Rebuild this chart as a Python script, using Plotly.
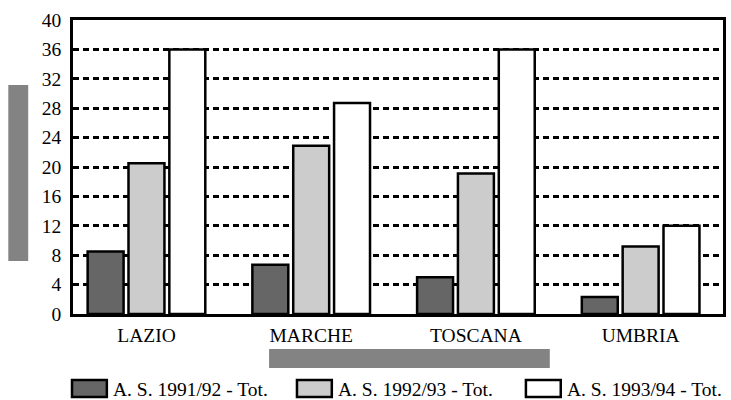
import plotly.graph_objects as go

# Regions and the three school-year series
regions = ["LAZIO", "MARCHE", "TOSCANA", "UMBRIA"]
series_names = ["A. S. 1991/92 - Tot.", "A. S. 1992/93 - Tot.", "A. S. 1993/94 - Tot."]
tot_1991_92 = [8.5, 6.7, 5.0, 2.3]
tot_1992_93 = [20.5, 22.9, 19.1, 9.2]
tot_1993_94 = [36.0, 28.7, 36.0, 12.0]
y_ticks = [0, 4, 8, 12, 16, 20, 24, 28, 32, 36, 40]

series_values = [tot_1991_92, tot_1992_93, tot_1993_94]
fill_colors = ["#666666", "#cccccc", "#ffffff"]

W, H = 731, 400
M_L, M_R, M_T, M_B = 73, 5, 20, 86
PW, PH = W - M_L - M_R, H - M_T - M_B
FONT = dict(family="Liberation Serif, Times New Roman, serif", size=19.5, color="#000000")


def px_x(px):
    return (px - M_L) / PW


def px_y(py):
    return (H - M_B - py) / PH


fig = go.Figure()
for name, vals, col in zip(series_names, series_values, fill_colors):
    fig.add_trace(go.Bar(
        x=regions, y=vals, name=name,
        marker=dict(color=col, line=dict(color="#000000", width=2.5)),
        showlegend=False,
    ))

# Hand-built legend with wide swatches
legend_boxes = [(72, 107), (298, 333), (528, 563)]
shapes = []
annotations = []
for (x0, x1), name, col in zip(legend_boxes, series_names, fill_colors):
    shapes.append(dict(type="rect", xref="paper", yref="paper",
                       x0=px_x(x0), x1=px_x(x1), y0=px_y(397), y1=px_y(380),
                       fillcolor=col, line=dict(color="#000000", width=2.5)))
    annotations.append(dict(xref="paper", yref="paper", x=px_x(x1 + 4), y=px_y(389),
                            xanchor="left", yanchor="middle", showarrow=False,
                            text=name, font=FONT))

# Grey blocks beside the vertical axis and under the category labels
shapes.append(dict(type="rect", xref="paper", yref="paper",
                   x0=px_x(8), x1=px_x(28), y0=px_y(261), y1=px_y(85),
                   fillcolor="#838383", line=dict(width=0)))
shapes.append(dict(type="rect", xref="paper", yref="paper",
                   x0=px_x(270), x1=px_x(552), y0=px_y(368), y1=px_y(349),
                   fillcolor="#838383", line=dict(width=0)))

fig.update_layout(
    width=W, height=H,
    margin=dict(l=M_L, r=M_R, t=M_T, b=M_B),
    paper_bgcolor="#ffffff", plot_bgcolor="#ffffff",
    barmode="group", bargap=0.256, bargroupgap=0.12,
    font=FONT,
    shapes=shapes, annotations=annotations,
    showlegend=False,
)
fig.update_xaxes(
    type="category", range=[-0.446, 3.5],
    showline=True, mirror=True, linecolor="#000000", linewidth=2.5,
    showgrid=False, ticks="", ticklabelstandoff=2, tickfont=FONT,
)
fig.update_yaxes(
    range=[0, 40], tickvals=y_ticks,
    showline=True, mirror=True, linecolor="#000000", linewidth=2.5,
    showgrid=True, gridcolor="#000000", gridwidth=2.5, griddash="6px,4px",
    zeroline=False, ticks="", ticklabelstandoff=5, tickfont=FONT,
)

fig.write_html("out.html")
